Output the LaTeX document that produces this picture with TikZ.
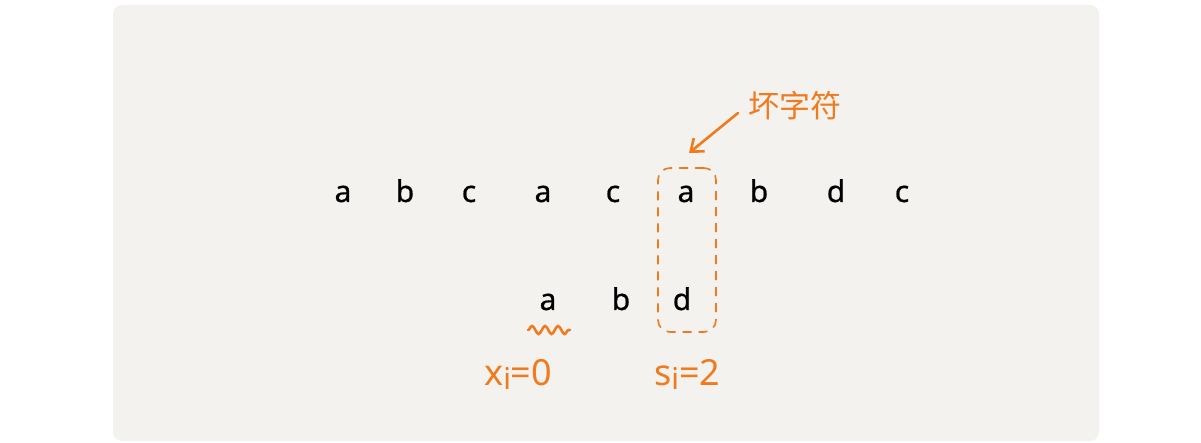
\documentclass[tikz,border=0pt]{standalone}
\usepackage{fontspec}
\setmainfont{Noto Sans}[FakeBold=0.6]
\newfontfamily\cjk{Noto Sans CJK SC}
\newfontfamily\lab{Noto Sans}
\usetikzlibrary{arrows.meta,decorations.pathmorphing}
\definecolor{panel}{HTML}{F3F2EF}
\definecolor{accent}{HTML}{F07A1E}
\tikzset{
  letter/.style={font=\fontsize{30}{30}\selectfont, text=black, inner sep=0pt, anchor=base},
  olabel/.style={font=\lab\fontsize{36}{36}\selectfont, text=accent, inner sep=0pt, anchor=base west},
  obox/.style={draw=accent, line width=1.6pt, dash pattern=on 9pt off 7pt, rounded corners=12pt},
  oarrow/.style={draw=accent, line width=2.6pt, line cap=round, -{Straight Barb[length=11pt,width=17pt,line width=2.6pt]}},
}
\begin{document}
\begin{tikzpicture}[x=1pt,y=-1pt]
\useasboundingbox (0,0) rectangle (1201,443);
\fill[white] (0,0) rectangle (1201,443);
\fill[panel, rounded corners=9pt] (113,5) rectangle (1099,441);
% top row
\foreach \ch/\x [count=\i] in {a/343,b/405,c/469,a/543,c/613,a/686,b/759,d/836,c/902}
  \node[letter] (t\i) at (\x,202) {\ch};
% bottom row
\node[letter] (p1) at (548,310) {a};
\node[letter] (p2) at (621,310) {b};
\node[letter] (p3) at (682,310) {d};
% dashed box
\node[obox, minimum width=58pt, minimum height=164pt] (box) at (687,250) {};
% label and arrow
\node[font=\cjk\fontsize{31}{31}\selectfont, text=accent, inner sep=0pt] (bad) at (795,106) {坏字符};
\coordinate (as) at (738,113);
\coordinate (ae) at (689,153);
\draw[oarrow] (as) -- (ae);
% wavy mark
\coordinate (w1) at (528,330);
\coordinate (w2) at (570,330);
\draw[accent, line width=2.6pt, line cap=round, decorate, decoration={snake, amplitude=4pt, segment length=13pt}] (w1) -- (w2);
% bottom labels
\node[olabel] (xi) at (484,385) {x\raisebox{-4pt}{\fontsize{30}{30}\selectfont i}=0};
\node[olabel] (si) at (654,385) {s\raisebox{-4pt}{\fontsize{30}{30}\selectfont i}=2};
\end{tikzpicture}
\end{document}
